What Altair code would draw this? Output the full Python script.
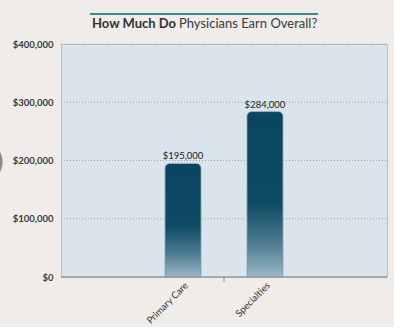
import altair as alt
import pandas as pd

categories = ["Primary Care", "Specialties"]
values = [195000, 284000]
value_labels = ["$195,000", "$284,000"]
y_ticks = [0, 100000, 200000, 300000, 400000]
title_bold = "How Much Do"
title_rest = "Physicians Earn Overall?"

df = pd.DataFrame({"category": categories, "value": values, "label": value_labels})
grid_df = pd.DataFrame({"tick": y_ticks[1:]})
one = pd.DataFrame({"k": [0]})

FONT = "Lato"

x_scale = alt.Scale(paddingInner=0.56, paddingOuter=0.5, range=[63, 263])
y_scale = alt.Scale(domain=[0, 400000], nice=False)
x_enc = alt.X("category:N", sort=categories, title=None, scale=x_scale,
              axis=alt.Axis(labelAngle=-45, labelAlign="right", labelBaseline="top",
                            labelPadding=3, labelFontSize=9.5, labelColor="#333333",
                            labelFont=FONT, ticks=False, domain=False, grid=False))
y_enc = alt.Y("value:Q", title=None, scale=y_scale,
              axis=alt.Axis(values=y_ticks, format="$,.0f", labelFontSize=9.5,
                            labelFont=FONT, labelFontWeight="bold", labelColor="#3a3a3a",
                            labelPadding=8, ticks=False, domain=False, grid=False))

grid = alt.Chart(grid_df).mark_rule(color="#9fa4a8", strokeWidth=1, strokeDash=[1, 2]).encode(
    y=alt.Y("tick:Q", scale=y_scale), x=alt.value(0), x2=alt.value(326))

grad = alt.Gradient(
    gradient="linear",
    stops=[alt.GradientStop(color="#0b4660", offset=0),
           alt.GradientStop(color="#0d4a63", offset=0.55),
           alt.GradientStop(color="#4f7d91", offset=0.8),
           alt.GradientStop(color="#9bb8c7", offset=1)],
    x1=0, x2=0, y1=0, y2=1)

bars = alt.Chart(df).mark_bar(color=grad, cornerRadiusTopLeft=5, cornerRadiusTopRight=5,
                              stroke="#7d98a4", strokeWidth=0.6).encode(x=x_enc, y=y_enc)

labels = alt.Chart(df).mark_text(baseline="bottom", dy=-2, fontSize=9.5, font=FONT,
                                 color="#222222").encode(
    x=alt.X("category:N", sort=categories, scale=x_scale), y="value:Q", text="label:N")

baseline = alt.Chart(one).mark_rule(color="#9a9c9e", strokeWidth=1.5).encode(
    x=alt.value(0), x2=alt.value(326), y=alt.value(233))

mid_tick = alt.Chart(one).mark_rule(color="#8a8c8e", strokeWidth=1).encode(
    x=alt.value(163), y=alt.value(233), y2=alt.value(238))

title_line = alt.Chart(one).mark_rule(color="#3d8b93", strokeWidth=2).encode(
    x=alt.value(29), x2=alt.value(257), y=alt.value(-30))

t1 = alt.Chart(one).mark_text(align="right", baseline="middle", fontSize=13, font=FONT,
                              fontWeight="bold", color="#333333").encode(
    x=alt.value(115), y=alt.value(-20), text=alt.value(title_bold))
t2 = alt.Chart(one).mark_text(align="left", baseline="middle", fontSize=13, font=FONT,
                              color="#3a3a3a").encode(
    x=alt.value(118), y=alt.value(-20), text=alt.value(title_rest))

strip_r = alt.Chart(one).mark_rect(color="#ffffff").encode(
    x=alt.value(333), x2=alt.value(345), y=alt.value(-50), y2=alt.value(300))
strip_b = alt.Chart(one).mark_rect(color="#ffffff").encode(
    x=alt.value(-70), x2=alt.value(345), y=alt.value(283), y2=alt.value(300))

knob = alt.Chart(one).mark_point(filled=True, color="#8e8a86", opacity=1, shape="circle").encode(
    x=alt.value(-79), y=alt.value(118), size=alt.value(1700))

chart = alt.layer(grid, bars, labels, baseline, mid_tick, title_line, t1, t2,
                  strip_r, strip_b, knob).properties(
    width=326, height=233,
    autosize=alt.AutoSizeParams(type="none"),
    padding={"left": 61, "top": 44, "right": 13, "bottom": 57},
    background="#efece9",
).configure_view(fill="#d9e4ec", stroke="#b9bdbf", strokeWidth=1)

chart.save("out.html", embed_options={"renderer": "svg", "actions": False})
